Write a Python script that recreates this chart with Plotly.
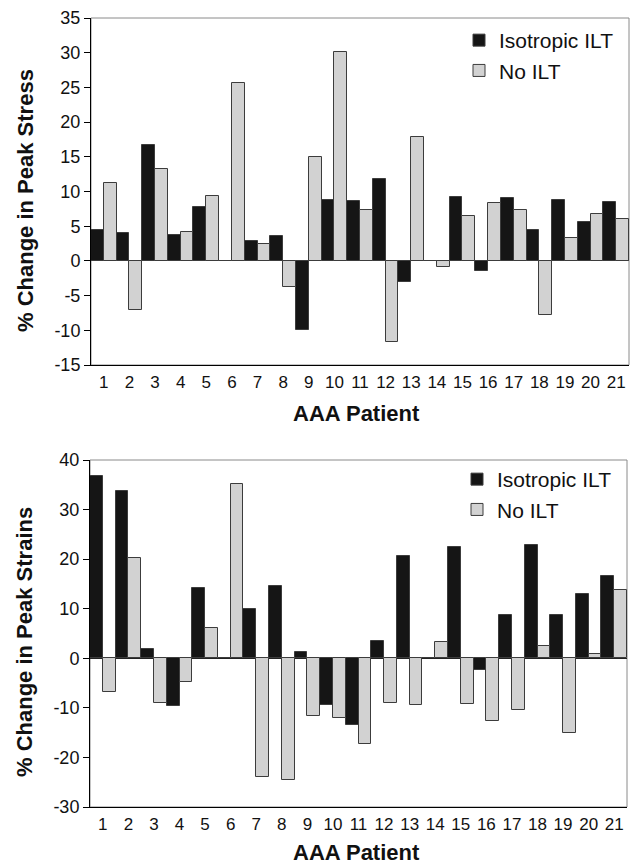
import plotly.graph_objects as go

patients = list(range(1, 22))
tick_labels = [str(p) for p in patients]

stress_ticks = [-15, -10, -5, 0, 5, 10, 15, 20, 25, 30, 35]
strain_ticks = [-30, -20, -10, 0, 10, 20, 30, 40]

stress_iso = [4.5, 4.0, 16.7, 3.7, 7.8, 0.0, 2.9, 3.6, -10.0, 8.8, 8.7, 11.8, -3.1, 0.0, 9.2, -1.5, 9.1, 4.4, 8.8, 5.6, 8.5]
stress_noilt = [11.2, -7.1, 13.3, 4.2, 9.3, 25.6, 2.5, -3.7, 15.0, 30.1, 7.3, -11.7, 17.8, -0.9, 6.5, 8.4, 7.3, -7.8, 3.3, 6.8, 6.0]

strain_iso = [36.7, 33.8, 1.9, -9.7, 14.1, 0.0, 10.0, 14.5, 1.2, -9.4, -13.4, 3.4, 20.7, 0.0, 22.4, -2.3, 8.8, 22.9, 8.8, 12.9, 16.7]
strain_noilt = [-6.9, 20.3, -9.0, -4.8, 6.2, 35.1, -23.9, -24.5, -11.6, -12.0, -17.3, -9.1, -9.4, 3.2, -9.2, -12.7, -10.4, 2.4, -15.0, 0.8, 13.7]

W, H = 636, 867
FONT = "Liberation Sans, Arial, Helvetica, sans-serif"
BLACK = "#151515"
GRAY = "#d2d2d2"
EDGE = "#3c3c3c"

fig = go.Figure()

def add_bars(xa, ya, iso, noilt, legend):
    fig.add_trace(go.Bar(x=patients, y=iso, name="Isotropic ILT", xaxis=xa, yaxis=ya,
                         marker=dict(color=BLACK, line=dict(color=EDGE, width=1)),
                         legend=legend))
    fig.add_trace(go.Bar(x=patients, y=noilt, name="No ILT", xaxis=xa, yaxis=ya,
                         marker=dict(color=GRAY, line=dict(color=EDGE, width=1)),
                         legend=legend))

add_bars("x", "y", stress_iso, stress_noilt, "legend")
add_bars("x2", "y2", strain_iso, strain_noilt, "legend2")

top_x = [91 / W, 629 / W]
top_y = [1 - 365 / H, 1 - 18 / H]
bot_x = [90 / W, 627 / W]
bot_y = [1 - 807 / H, 1 - 460 / H]

xcommon = dict(tickmode="array", tickvals=patients, ticktext=tick_labels, range=[0.5, 21.5],
               showgrid=False, zeroline=False, showline=True, linecolor="black", linewidth=1,
               ticks="", tickfont=dict(family=FONT, size=17, color="#111"), ticklabelstandoff=2,
               automargin=False)
ycommon = dict(showgrid=False, showline=True, linecolor="black", linewidth=1,
               ticks="outside", ticklen=6, tickcolor="black", tickwidth=1,
               zeroline=True, zerolinecolor="#222", zerolinewidth=1,
               tickfont=dict(family=FONT, size=18, color="#111"), automargin=False)

fig.update_layout(
    width=W, height=H,
    margin=dict(l=0, r=0, t=0, b=0, autoexpand=False),
    paper_bgcolor="white", plot_bgcolor="white",
    barmode="group", bargap=0, bargroupgap=0,
    xaxis=dict(domain=top_x, anchor="y", **xcommon),
    yaxis=dict(domain=top_y, anchor="x", range=[-15, 35], tickmode="array",
               tickvals=stress_ticks, ticktext=[str(t) for t in stress_ticks], **ycommon),
    xaxis2=dict(domain=bot_x, anchor="y2", **xcommon),
    yaxis2=dict(domain=bot_y, anchor="x2", range=[-30, 40], tickmode="array",
                tickvals=strain_ticks, ticktext=[str(t) for t in strain_ticks], **ycommon),
    legend=dict(x=459 / W, y=1 - 20 / H, xanchor="left", yanchor="top", xref="paper", yref="paper",
                font=dict(family=FONT, size=21, color="#111"), bgcolor="rgba(0,0,0,0)"),
    legend2=dict(x=457 / W, y=1 - 459 / H, xanchor="left", yanchor="top", xref="paper", yref="paper",
                 font=dict(family=FONT, size=21, color="#111"), bgcolor="rgba(0,0,0,0)"),
    font=dict(family=FONT),
)

# gray frame (top/right) around each plot area
for xr, yr in (("x domain", "y domain"), ("x2 domain", "y2 domain")):
    fig.add_shape(type="rect", xref=xr, yref=yr, x0=0, x1=1, y0=0, y1=1,
                  line=dict(color="#8a8a8a", width=1), layer="below")

title_font = dict(family=FONT, size=22, color="#111")
fig.add_annotation(text="<b>% Change in Peak Stress</b>", textangle=-90, x=25 / W, y=1 - 201 / H,
                   xref="paper", yref="paper", showarrow=False, font=title_font,
                   xanchor="center", yanchor="middle")
fig.add_annotation(text="<b>AAA Patient</b>", x=356 / W, y=1 - 413 / H,
                   xref="paper", yref="paper", showarrow=False, font=title_font,
                   xanchor="center", yanchor="middle")
fig.add_annotation(text="<b>% Change in Peak Strains</b>", textangle=-90, x=24 / W, y=1 - 642 / H,
                   xref="paper", yref="paper", showarrow=False, font=title_font,
                   xanchor="center", yanchor="middle")
fig.add_annotation(text="<b>AAA Patient</b>", x=356 / W, y=1 - 852 / H,
                   xref="paper", yref="paper", showarrow=False, font=title_font,
                   xanchor="center", yanchor="middle")

fig.write_html("out.html", config={"displayModeBar": False},
               post_script="document.body.style.margin='0';document.body.style.overflow='hidden';")
